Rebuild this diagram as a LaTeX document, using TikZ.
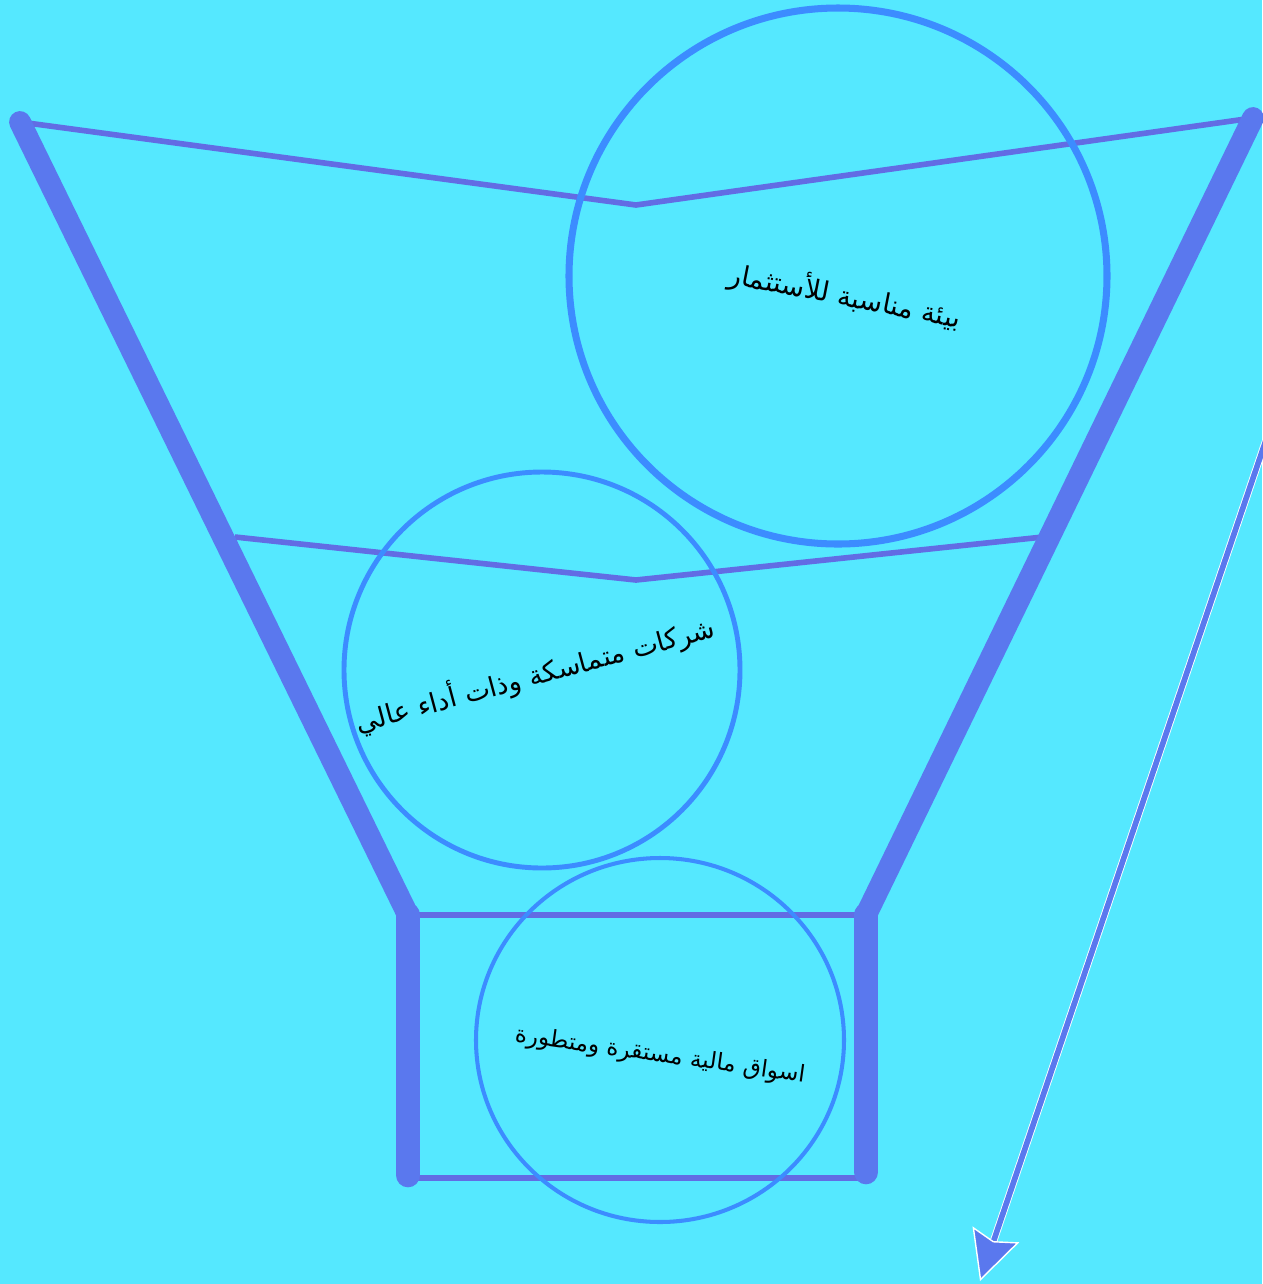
\documentclass[tikz,border=0pt]{standalone}
\usepackage{fontspec}
\newfontfamily\arabicfont[Script=Arabic]{DejaVu Sans}
\TeXXeTstate=1
\definecolor{sky}{RGB}{85,232,255}
\definecolor{wall}{RGB}{90,120,238}
\definecolor{rim}{RGB}{98,108,228}
\definecolor{ring}{RGB}{60,140,255}
\usetikzlibrary{arrows.meta}
\tikzset{
  side/.style={wall, line width=6.2pt, line cap=round, line join=round},
  neck/.style={wall, line width=7pt, line cap=round},
  edge/.style={rim, line width=1.6pt, line join=round},
  bubble/.style={ring},
  caption/.style={font=\arabicfont\fontsize{#1}{10}\selectfont, inner sep=0pt},
}
\begin{document}
\begin{tikzpicture}[x=0.01cm,y=-0.01cm]
  \fill[sky] (0,0) rectangle (1262,1284);
  \useasboundingbox (0,0) rectangle (1262,1284);

  % funnel corners
  \coordinate (tl) at (20,122);
  \coordinate (tr) at (1253,118);
  \coordinate (tm) at (636,205);
  \coordinate (ml) at (235,537);
  \coordinate (mr) at (1043,537);
  \coordinate (mm) at (636,580);
  \coordinate (nl) at (408,915);
  \coordinate (nr) at (866,915);
  \coordinate (bl) at (408,1175);
  \coordinate (br) at (866,1172);

  % rims
  \draw[edge] (tl) -- (tm) -- (tr);
  \draw[edge] (ml) -- (mm) -- (mr);
  \draw[edge] (nl) -- (nr);
  \draw[edge] (bl |- 0,1178) -- (br |- 0,1178);

  % walls
  \draw[side] (tl) -- (nl);
  \draw[side] (tr) -- (nr);
  \draw[neck] (nl) -- (bl);
  \draw[neck] (nr) -- (br);

  % bubbles
  \draw[bubble, line width=2pt] (838,276) ellipse [x radius=269, y radius=268];
  \draw[bubble, line width=1.4pt] (542,670) ellipse [x radius=198, y radius=198];
  \draw[bubble, line width=1.15pt] (660,1040) ellipse [x radius=184, y radius=182];

  \node[caption=7.8, rotate=-11] (env) at (845,296) {\beginR بيئة مناسبة للأستثمار\endR};
  \node[caption=7.7, rotate=15] (firms) at (535,675) {\beginR شركات متماسكة وذات أداء عالي\endR};
  \node[caption=6.6, rotate=-8] (mkts) at (660,1056) {\beginR اسواق مالية مستقرة ومتطورة\endR};

  % arrow
  \coordinate (as) at (1266,440);
  \coordinate (ae) at (980,1281);
  \draw[white, line width=2.1pt, shorten >=8pt] (as) -- (ae);
  \draw[wall, line width=1.6pt,
        -{Stealth[length=14pt, width=14pt, inset=2pt, fill=wall, color=white, line width=0.4pt]}]
        (as) -- (ae);
\end{tikzpicture}
\end{document}
